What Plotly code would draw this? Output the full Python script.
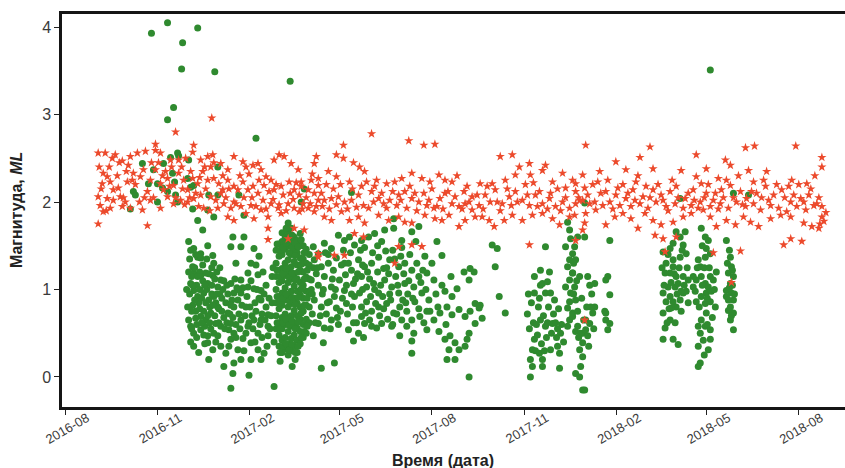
import pandas as pd
import plotly.graph_objects as go

# Values: (day offset from 2016-08-01, magnitude ML)
ORIGIN = "2016-08-01"

red_2016 = [
    (33,2.56),(40,2.56),(50,2.54),(57,2.47),(65,2.52),(72,2.56),(80,2.58),(90,2.66),(90,2.59),(95,2.56),
    (110,2.80),(105,2.48),(113,2.48),(120,2.50),(128,2.65),(127,2.57),(135,2.48),(142,2.52),(147,2.54),(148,2.45),
    (155,2.44),(162,2.37),(168,2.52),(177,2.46),(180,2.40),(187,2.42),(192,2.44),(195,2.37),(200,2.29),(208,2.48),
    (213,2.54),(218,2.52),(225,2.44),(232,2.37),(235,2.18),(245,2.25),(252,2.19),(146,2.96),
    (38,2.33),(42,2.29),(45,2.23),(37,2.21),(53,2.16),(48,2.14),(62,2.23),(68,2.33),(75,2.29),(78,2.37),
    (85,2.25),(90,2.37),(95,2.21),(102,2.27),(98,2.14),(108,2.19),(113,2.33),(118,2.25),(122,2.14),(127,2.27),
    (132,2.21),(137,2.35),(142,2.25),(145,2.40),(148,2.27),(153,2.21),(157,2.14),(162,2.25),(168,2.18),(172,2.14),
    (177,2.23),(182,2.14),(187,2.18),(192,2.10),(198,2.19),(205,2.25),(208,2.14),(215,2.18),(223,2.23),(228,2.14),
    (235,2.23),(242,2.14),(248,2.10),
    (33,2.06),(42,2.04),(48,2.02),(55,2.06),(60,2.00),(35,1.96),(45,1.93),(57,1.95),(38,1.89),(65,1.93),
    (77,1.91),(85,2.02),(95,1.93),(102,2.06),(108,1.98),(115,2.02),(122,2.00),(128,2.04),(135,2.08),(138,1.93),
    (145,2.06),(150,2.02),(152,1.93),(158,1.98),(162,1.83),(165,1.93),(168,2.00),(175,1.95),(180,1.87),(185,1.96),
    (188,1.81),(195,1.91),(202,1.83),(205,1.98),(212,1.93),(215,1.87),(222,1.98),(228,1.93),(233,1.89),(237,1.98),
    (242,1.93),(248,1.89),(252,2.02),
    (33,1.75),(82,1.73),(168,1.79),(202,1.70),(202,1.57),(222,1.58),(228,1.70),(238,1.68),
    (36,2.15),(44,2.40),(52,2.30),(58,2.05),(63,2.42),(70,2.20),(74,2.00),(82,2.12),(88,2.05),(93,2.45),
    (100,2.35),(104,2.18),(110,2.05),(116,2.40),(119,1.97),(125,2.35),(130,2.10),(133,1.95),(140,2.15),(144,1.90),
    (160,2.05),(163,2.15),(170,1.98),(174,2.30),(178,2.05),(183,2.32),(186,2.05),(190,1.95),(193,2.25),(197,2.02),
    (200,1.92),(203,2.12),(207,2.03),(210,2.20),(213,1.97),(217,2.08),(220,1.90),(224,2.10),(227,2.03),(230,2.22),
    (233,2.08),(236,1.92),(240,2.05),(244,1.98),(246,2.32),(250,1.95),(155,2.10),(157,2.30),(139,2.40),(134,2.28),
    (124,2.05),(117,2.15),(106,2.40),(97,2.30),(86,2.45),(79,2.05),(67,2.25),(61,2.35),(54,2.45),(47,2.50),
    (41,1.90),(34,2.40),
]

red_2017 = [
    (305,2.78),(277,2.65),(342,2.70),(357,2.65),(368,2.66),(250,2.52),(270,2.54),(277,2.50),(287,2.45),(293,2.40),
    (298,2.35),(248,2.44),(262,2.35),(252,2.27),(270,2.29),(283,2.23),(300,2.23),(308,2.18),(320,2.21),(328,2.23),
    (335,2.27),(345,2.33),(355,2.27),(363,2.23),(372,2.31),(378,2.25),(385,2.23),(397,2.12),(405,2.06),(413,2.21),
    (425,2.21),(433,2.52),(445,2.54),(438,2.25),(448,2.31),(452,2.40),(462,2.44),(463,2.31),(478,2.42),(475,2.36),
    (485,2.23),(495,2.33),(498,2.16),(508,2.12),
    (255,2.10),(258,2.02),(265,2.04),(272,2.06),(278,2.00),(285,2.02),(292,2.08),(297,1.96),(305,2.12),(312,2.04),
    (317,1.98),(323,2.02),(332,2.08),(338,2.12),(345,2.04),(352,2.00),(360,1.96),(367,1.93),(373,2.04),(378,2.10),
    (385,1.98),(392,1.95),(398,1.98),(405,1.91),(412,1.96),(418,2.08),(423,2.00),(428,2.14),(435,1.98),(442,2.06),
    (448,2.12),(455,2.02),(462,1.96),(468,2.08),(475,1.98),(482,2.04),(488,1.95),(495,2.00),(502,1.93),(508,1.98),
    (515,2.02),
    (258,1.83),(265,1.79),(275,1.89),(283,1.79),(292,1.83),(298,1.76),(312,1.85),(322,1.79),(332,1.83),(338,1.77),
    (345,1.76),(358,1.85),(368,1.81),(375,1.79),(382,1.85),(392,1.72),(398,1.79),(408,1.83),(415,1.83),(422,1.79),
    (427,1.72),(437,1.79),(445,1.85),(455,1.79),(465,1.85),(475,1.87),(485,1.81),(492,1.74),(502,1.83),
    (288,1.64),(297,1.60),(252,1.37),(268,1.39),(278,1.39),(332,1.49),(345,1.51),(355,1.49),(328,1.30),(462,1.51),
    (515,1.68),(252,1.41),
    (256,1.95),(260,2.20),(263,1.92),(267,2.15),(270,1.97),(274,2.20),(281,1.92),(286,2.15),(290,1.94),(295,2.18),
    (302,1.93),(307,2.00),(310,2.25),(315,2.10),(320,1.93),(326,2.12),(330,1.96),(334,2.02),(340,1.93),(343,2.18),
    (348,2.10),(350,1.90),(357,2.10),(362,2.02),(365,2.15),(370,1.95),(376,1.92),(381,2.12),(388,2.06),(390,2.30),
    (395,1.92),(400,2.18),(402,2.00),(410,2.08),(416,1.92),(420,2.18),(430,2.00),(433,1.90),(440,2.15),(444,1.96),
    (450,2.00),(458,2.20),(460,2.08),(466,2.22),(470,1.95),(472,2.12),(480,1.92),(483,2.10),(490,2.15),(493,1.90),
    (498,2.05),(505,2.25),(511,2.05),
]

red_2018 = [
    (518,2.65),(582,2.63),(628,2.54),(677,2.62),(686,2.64),(727,2.64),(753,2.51),(753,2.40),(548,2.46),(558,2.37),
    (572,2.51),(532,2.35),(585,2.38),(613,2.36),(638,2.38),(657,2.48),(662,2.42),(680,2.36),(698,2.35),(515,2.31),
    (568,2.23),(628,2.29),(650,2.27),(685,2.23),(723,2.25),(738,2.21),
    (508,2.21),(517,2.16),(530,2.23),(538,2.12),(550,2.16),(558,2.04),(565,2.14),(575,2.06),(585,2.14),(593,2.08),
    (602,2.12),(608,2.18),(617,2.04),(625,2.14),(633,2.21),(638,2.10),(645,2.02),(653,2.14),(662,2.19),(672,2.12),
    (678,2.04),(688,2.10),(697,2.18),(705,2.08),(713,2.14),(722,2.00),(732,2.04),(740,2.08),(748,1.98),(753,1.95),
    (512,2.02),(522,1.98),(535,1.96),(542,2.00),(552,1.96),(563,1.95),(572,1.98),(580,1.93),(588,2.00),(598,1.95),
    (607,1.98),(615,1.93),(623,1.96),(632,2.00),(642,1.95),(652,1.98),(660,1.93),(668,2.00),(677,1.95),(685,1.98),
    (692,1.91),(702,1.96),(710,1.93),(718,1.89),(728,1.95),(737,1.91),(745,1.96),
    (507,1.85),(518,1.87),(528,1.91),(538,1.74),(547,1.83),(555,1.87),(563,1.81),(570,1.70),(577,1.87),(585,1.79),
    (593,1.74),(605,1.77),(615,1.83),(623,1.87),(635,1.91),(642,1.83),(648,1.72),(658,1.79),(667,1.74),(675,1.83),
    (682,1.77),(690,1.72),(702,1.81),(712,1.85),(722,1.83),(735,1.76),(743,1.72),(750,1.70),(753,1.83),
    (517,1.76),(508,1.56),(587,1.62),(595,1.58),(608,1.60),(597,1.43),(645,1.42),(672,1.44),(715,1.51),(722,1.58),
    (733,1.55),(517,0.65),(663,1.08),
    (520,2.08),(525,2.20),(527,2.00),(533,2.10),(540,2.25),(545,1.92),(548,2.08),(555,2.20),(560,2.10),(567,2.02),
    (570,2.30),(578,2.18),(582,2.05),(590,2.20),(595,2.02),(600,1.90),(604,2.25),(610,2.05),(620,2.10),(626,2.02),
    (630,1.93),(636,2.05),(640,2.20),(647,2.10),(650,1.92),(655,2.05),(658,2.25),(665,2.05),(670,2.30),(674,1.97),
    (683,2.12),(693,2.05),(695,2.25),(700,2.02),(708,2.20),(716,2.05),(720,2.18),(725,2.08),(730,2.20),(735,2.00),
    (742,2.15),(746,2.30),(750,2.05),(755,1.78),(757,1.88),(751,1.75),
]

green_outliers = [
    (86,3.93),(102,4.05),(117,3.82),(132,3.99),(116,3.52),(149,3.49),(224,3.38),(108,3.08),(102,2.94),(190,2.73),
    (642,3.51),
]

green_2016 = [
    (112,2.56),(113,2.53),(105,2.51),(123,2.48),(77,2.44),(88,2.37),(98,2.44),(107,2.33),(109,2.23),(122,2.27),
    (152,2.40),(68,2.12),(70,2.08),(83,2.21),(92,2.21),(97,2.16),(102,2.12),(110,2.08),(112,2.00),(125,2.17),
    (128,2.19),(143,2.08),(152,2.08),(142,1.91),(148,1.83),(92,2.00),(65,1.92),(132,1.79),(137,1.68),(127,1.92),
    (178,1.85),(173,2.08),(238,2.15),(235,2.00),(285,2.11),
]

green_2017a = [
    (128,1.47),(132,1.37),(135,1.41),(142,1.50),(147,1.39),(148,1.30),(127,1.26),(128,1.19),(135,1.16),(140,1.19),
    (142,1.07),(147,1.16),(152,1.03),(155,1.11),(125,1.07),(128,0.99),(132,0.92),(138,0.96),(143,0.88),(148,0.92),
    (152,0.80),(127,0.82),(130,0.75),(135,0.69),(140,0.65),(145,0.73),(150,0.61),(125,0.58),(128,0.50),(135,0.54),
    (142,0.47),(148,0.50),(155,0.58),(125,0.40),(142,0.39),(147,0.31),(155,0.35),(160,0.27),(165,0.43),(168,0.50),
    (165,0.61),(162,0.73),(168,0.80),(172,0.88),(175,0.96),(182,1.03),(188,1.01),(195,0.99),(168,0.96),(165,1.07),
    (175,1.11),(182,1.19),(170,1.30),(165,1.49),(175,1.49),(167,1.60),(178,1.60),(188,1.47),(192,1.17),(185,1.30),
    (195,0.88),(200,0.80),(202,0.71),(188,0.65),(182,0.58),(175,0.65),(180,0.50),(185,0.39),(192,0.31),(198,0.27),
    (195,0.20),(185,0.20),(175,0.20),(168,0.16),(158,0.12),(167,0.04),(183,0.02),(165,-0.13),(208,-0.11),(143,0.20),
    (135,1.36),(130,0.67),(152,0.47),(172,0.31),(202,0.47),(202,0.58),(195,0.65),(192,0.50),(177,0.44),(163,0.54),
    (123,1.55),(124,1.35),(126,1.15),(124,0.95),(126,0.75),(123,0.65),(129,1.25),(131,1.05),(133,0.85),(131,0.60),
    (134,1.20),(137,1.10),(136,0.90),(138,0.75),(139,0.58),(141,1.35),(141,1.00),(144,0.80),(144,0.62),(146,1.25),
    (146,0.95),(149,0.70),(150,0.85),(151,1.20),(153,0.62),(154,0.95),(156,0.75),(157,1.00),(159,0.55),(160,0.85),
    (161,1.05),(164,0.72),(166,0.88),(170,0.60),(171,1.02),(173,0.72),(176,0.82),(179,0.70),(181,0.92),(184,0.80),
    (186,0.70),(189,0.85),(190,0.75),(193,0.90),(196,0.72),(198,0.95),(200,1.05),(197,1.20),(193,1.38),(190,1.28),
    (203,0.90),(205,0.70),(206,1.15),(128,0.35),(133,0.28),(139,0.38),
    (121,1.00),(122,0.80),(123,1.20),(125,1.45),(126,0.55),(127,1.05),(129,0.88),(130,1.40),(131,0.45),(132,1.15),
    (134,0.78),(134,1.00),(136,0.62),(137,1.28),(138,0.48),(139,1.05),(140,0.85),(142,0.70),(143,1.18),(145,0.55),
    (146,1.05),(147,0.82),(149,1.12),(150,0.40),(151,0.95),(153,0.78),(154,1.25),(156,0.90),(158,0.68),(158,1.10),
    (161,0.62),(162,0.95),(163,0.35),(165,0.82),(167,0.68),(169,1.12),(170,0.45),(172,1.00),(174,0.55),(177,1.02),
    (178,0.30),(180,0.80),(183,0.62),(185,1.10),(187,0.55),(189,0.40),(191,1.00),(194,0.60),(196,0.45),(199,0.65),
    (201,0.35),(204,0.55),(206,0.85),
]

green_2017b = [
    (210,0.55),(210,0.70),(210,0.85),(210,1.00),(210,1.15),(210,1.30),(210,1.45),
    (213,0.35),(213,0.48),(213,0.62),(213,0.78),(213,0.92),(213,1.08),(213,1.22),(213,1.38),(213,1.52),
    (216,0.28),(216,0.42),(216,0.55),(216,0.68),(216,0.82),(216,0.96),(216,1.10),(216,1.24),(216,1.40),(216,1.55),(216,1.65),
    (219,0.32),(219,0.45),(219,0.60),(219,0.72),(219,0.88),(219,1.02),(219,1.16),(219,1.30),(219,1.46),(219,1.60),
    (222,0.25),(222,0.38),(222,0.52),(222,0.66),(222,0.80),(222,0.94),(222,1.08),(222,1.20),(222,1.34),(222,1.50),(222,1.66),(222,1.76),
    (225,0.30),(225,0.44),(225,0.58),(225,0.70),(225,0.84),(225,0.98),(225,1.12),(225,1.26),(225,1.40),(225,1.55),(225,1.70),
    (228,0.35),(228,0.48),(228,0.62),(228,0.76),(228,0.90),(228,1.04),(228,1.18),(228,1.32),(228,1.46),(228,1.60),
    (231,0.28),(231,0.42),(231,0.56),(231,0.70),(231,0.84),(231,0.98),(231,1.12),(231,1.28),(231,1.42),(231,1.56),
    (234,0.38),(234,0.52),(234,0.66),(234,0.80),(234,0.94),(234,1.08),(234,1.22),(234,1.36),(234,1.50),(234,1.64),
    (237,0.45),(237,0.60),(237,0.75),(237,0.90),(237,1.05),(237,1.20),(237,1.35),(237,1.50),
    (240,0.50),(240,0.66),(240,0.82),(240,0.98),(240,1.14),(240,1.30),(240,1.46),
    (243,0.62),(243,0.80),(243,0.96),(243,1.12),(243,1.28),(243,1.40),
    (214,0.18),(226,0.12),(229,0.20),(208,0.40),(207,1.25),(245,1.00),(246,0.72),(247,1.25),
    (211,0.62),(211,0.92),(211,1.22),(211,1.52),
    (214,0.28),(214,0.55),(214,0.85),(214,1.15),(214,1.45),
    (217,0.35),(217,0.62),(217,0.90),(217,1.18),(217,1.48),
    (220,0.38),(220,0.66),(220,0.95),(220,1.24),(220,1.53),(220,1.70),
    (223,0.31),(223,0.59),(223,0.87),(223,1.14),(223,1.42),(223,1.62),
    (226,0.37),(226,0.64),(226,0.91),(226,1.19),(226,1.48),(226,1.62),
    (229,0.28),(229,0.55),(229,0.83),(229,1.11),(229,1.39),(229,1.53),
    (232,0.35),(232,0.63),(232,0.91),(232,1.20),(232,1.49),
    (235,0.45),(235,0.73),(235,1.01),(235,1.29),(235,1.57),
    (238,0.52),(238,0.82),(238,1.12),(238,1.42),
    (241,0.58),(241,0.90),(241,1.22),
]

green_2017c = [
    (247,1.49),(252,1.41),(258,1.53),(265,1.47),(272,1.62),(278,1.56),(283,1.60),(288,1.51),(295,1.56),(302,1.60),
    (308,1.64),(315,1.55),(318,1.68),(327,1.81),(327,1.70),(335,1.56),(345,1.66),(352,1.72),(370,1.55),(375,1.39),
    (248,1.34),(255,1.26),(262,1.30),(270,1.36),(278,1.30),(285,1.22),(292,1.34),(298,1.26),(305,1.30),(312,1.37),
    (317,1.24),(323,1.34),(332,1.26),(338,1.30),(345,1.22),(352,1.15),(360,1.19),(367,1.11),
    (245,1.11),(252,1.05),(258,1.15),(265,1.03),(273,1.11),(278,0.99),(287,1.07),(295,1.15),(300,1.03),(307,1.07),
    (312,0.96),(318,1.11),(325,1.03),(332,0.96),(338,1.07),(347,1.03),(355,0.96),(362,0.88),(378,0.98),(385,0.92),
    (390,1.01),
    (248,0.88),(255,0.80),(263,0.86),(270,0.79),(280,0.84),(288,0.92),(295,0.80),(300,0.86),(305,0.75),(312,0.80),
    (320,0.84),(327,0.73),(333,0.80),(340,0.75),(345,0.65),(353,0.69),(360,0.75),(367,0.65),(373,0.73),(380,0.80),
    (385,0.71),(392,0.77),(398,0.69),(403,0.75),
    (252,0.61),(258,0.56),(265,0.65),(272,0.60),(282,0.54),(295,0.69),(298,0.61),(303,0.65),(310,0.56),(315,0.61),
    (325,0.58),(335,0.65),(340,0.58),(347,0.50),(360,0.54),(372,0.52),(378,0.43),(383,0.47),(388,0.39),(392,0.31),
    (398,0.35),(400,0.43),(402,0.50),
    (247,0.47),(257,0.39),(287,0.41),(297,0.45),(333,0.47),(345,0.41),(345,0.27),(382,0.31),(380,0.20),(388,0.20),
    (402,0.00),(268,0.16),(255,0.10),
    (250,1.18),(256,0.95),(260,0.72),(262,1.40),(267,1.22),(268,0.92),(271,0.68),(275,1.28),(276,0.90),(279,1.17),
    (281,0.72),(284,1.42),(286,0.80),(289,1.12),(290,0.62),(293,0.96),(294,1.45),(296,1.28),(299,0.73),(301,1.20),
    (304,0.92),(306,1.42),(309,0.84),(311,1.20),(313,0.70),(316,0.92),(319,1.44),(321,0.66),(322,1.18),(324,0.88),
    (326,1.45),(329,1.15),(330,0.72),(334,1.38),(336,0.88),(337,1.18),(341,0.95),(343,1.40),(348,0.86),(350,1.30),
    (354,1.08),(357,0.62),(358,1.38),
    (246,0.95),(249,0.62),(251,1.25),(254,0.70),(257,1.00),(259,1.42),(261,0.85),(264,0.55),(266,1.12),(269,1.00),
    (274,0.75),(277,1.45),(280,1.05),(282,1.30),(285,0.95),(287,0.62),(291,1.18),(292,0.50),(296,1.00),(298,1.48),
    (303,1.12),(305,0.58),(308,1.00),(311,1.50),(314,1.05),(317,0.78),(320,1.25),(323,0.95),(326,0.60),(328,1.35),
    (331,1.05),(335,1.48),(339,0.85),(342,1.10),(346,0.90),(349,1.55),(352,0.78),(356,1.22),(359,1.00),(363,0.75),
    (365,1.30),(369,0.95),(371,0.80),(375,1.05),(379,0.60),(384,1.15),
]

green_2017d = [
    (397,1.20),(403,1.24),(407,1.20),(402,1.11),(428,1.26),(425,1.51),(430,1.47),(408,0.84),(413,0.82),(432,0.92),
    (438,0.73),(412,0.79),(415,0.67),(408,0.61),
    (478,1.49),(473,1.22),(475,1.07),(478,0.96),(467,0.96),(473,1.05),(480,1.09),(483,0.96),
    (473,0.65),(478,0.58),(485,0.61),(493,0.50),(500,0.58),(508,0.52),(515,0.50),(502,0.65),
    (467,0.43),(465,0.31),(472,0.27),(475,0.20),(483,0.31),(490,0.35),(492,0.27),(465,0.12),(463,0.00),(475,0.12),
    (492,0.10),(508,0.04),(515,-0.15),
    (460,0.72),(462,0.55),(464,0.85),(466,0.62),(468,0.30),(470,0.48),(471,0.80),(474,0.38),(476,0.70),(479,0.45),
    (481,0.80),(484,0.50),(486,0.72),(488,0.62),(489,0.45),(491,0.78),(494,0.60),(496,0.40),
    (500,1.77),(502,1.68),(503,1.58),(498,1.49),(505,1.41),(502,1.34),(500,1.26),(505,1.19),(502,1.11),(498,1.03),
    (503,0.96),(502,0.86),(500,0.79),(505,0.69),(517,1.99),
    (461,0.95),(463,0.20),(467,1.15),(469,0.60),(472,0.90),(477,0.30),(480,0.62),(482,1.20),(487,0.88),(490,0.55),
]

green_2018 = [
    (507,1.49),(508,1.34),(505,1.19),(507,1.03),(508,0.88),(505,0.73),(510,0.58),(513,0.50),(518,0.54),(522,0.61),
    (525,0.73),(527,0.80),(520,0.47),(515,0.39),(512,0.31),(515,0.23),(513,0.12),(512,0.00),(517,-0.15),(517,1.60),
    (512,1.15),(520,1.15),(522,1.05),(527,1.07),(523,0.80),(518,0.65),
    (506,1.30),(509,1.10),(510,0.75),(511,0.45),(514,0.90),(516,0.65),(519,0.80),(521,0.35),(524,0.95),(526,0.55),
    (510,1.60),(506,0.95),
    (542,1.56),(540,1.15),(538,1.11),(542,0.94),(537,0.75),(538,0.65),(540,0.54),(542,0.61),(538,0.73),
    (595,1.43),(602,1.47),(605,1.53),(612,1.60),(617,1.66),(608,1.66),(615,1.51),(618,1.41),(612,1.37),(605,1.34),
    (598,1.30),(605,1.26),(602,1.19),(597,1.19),(608,1.15),(615,1.15),(607,1.03),(600,1.03),(595,0.96),(602,0.92),
    (605,0.86),(612,0.88),(615,0.96),(608,0.80),(603,0.79),(598,0.86),(595,0.73),(602,0.65),(597,0.56),(595,0.43),
    (605,0.43),(610,0.37),(618,0.98),(613,0.98),(610,1.07),
    (594,1.25),(596,1.05),(599,0.62),(600,1.40),(601,0.78),(603,1.08),(606,1.18),(607,0.62),(609,0.95),(611,1.25),
    (613,0.75),(614,1.45),(616,1.05),(619,1.25),(620,0.85),
    (633,1.70),(637,1.60),(640,1.56),(630,1.34),(632,1.26),(638,1.47),(642,1.41),(637,1.37),(633,1.15),(628,1.11),
    (637,1.07),(640,1.03),(642,1.15),(645,1.11),(638,0.96),(633,0.92),(628,0.86),(637,0.84),(642,0.86),(647,0.80),
    (638,0.73),(633,0.65),(630,0.58),(637,0.58),(642,0.54),(632,0.50),(642,0.43),(640,0.31),(632,0.16),(630,0.12),
    (625,1.15),(620,1.11),(625,1.03),(658,1.56),
    (627,0.98),(629,1.25),(631,0.80),(634,1.05),(635,0.42),(636,1.25),(639,0.90),(639,0.60),(641,1.25),(643,0.98),
    (644,0.68),(646,1.00),(648,1.20),(634,1.50),(630,0.35),(636,0.25),
    (662,1.37),(663,1.26),(660,1.19),(665,1.15),(662,1.07),(658,0.99),(663,0.96),(665,0.88),(660,0.88),(662,0.80),
    (665,0.73),(662,0.65),(665,0.54),(658,0.92),(659,1.30),(664,1.22),(661,1.02),(664,1.05),(660,0.76),(663,0.70),
    (666,0.95),(661,1.45),
    (612,2.04),(665,2.10),(680,2.08),
]

x_tick_vals = ["2016-08-01", "2016-11-01", "2017-02-01", "2017-05-01", "2017-08-01",
               "2017-11-01", "2018-02-01", "2018-05-01", "2018-08-01"]
x_tick_text = ["2016-08", "2016-11", "2017-02", "2017-05", "2017-08",
               "2017-11", "2018-02", "2018-05", "2018-08"]
y_tick_vals = [0, 1, 2, 3, 4]


def to_xy(*groups):
    pts = [p for g in groups for p in g]
    days = [p[0] for p in pts]
    mags = [p[1] for p in pts]
    dates = pd.Timestamp(ORIGIN) + pd.to_timedelta(days, unit="D")
    return dates, mags


gx, gy = to_xy(green_outliers, green_2016, green_2017a, green_2017b, green_2017c, green_2017d, green_2018)
rx, ry = to_xy(red_2016, red_2017, red_2018)

GREEN = "#2f8a2f"
RED = "#ec4a2c"

fig = go.Figure()
fig.add_trace(go.Scatter(
    x=gx, y=gy, mode="markers",
    marker=dict(symbol="circle", size=7, color=GREEN, line=dict(width=0)),
    showlegend=False, hoverinfo="skip"))
fig.add_trace(go.Scatter(
    x=rx, y=ry, mode="markers",
    marker=dict(symbol="star", size=7, color=RED, line=dict(width=0)),
    showlegend=False, hoverinfo="skip"))

axis_font = dict(family="Liberation Sans, Arial, sans-serif", color="#3a3a3a")

fig.update_layout(
    width=845, height=468,
    margin=dict(l=62, r=0, t=14, b=61),
    paper_bgcolor="white", plot_bgcolor="white",
    font=dict(family="Liberation Sans, Arial, sans-serif", color="#222"),
    xaxis=dict(
        type="date", range=["2016-07-29", "2018-09-16"],
        tickmode="array", tickvals=x_tick_vals, ticktext=x_tick_text,
        tickangle=-30, ticks="outside", ticklen=5, tickwidth=1.2, tickcolor="#222",
        tickfont=dict(size=13, **axis_font), ticklabelshift=22, ticklabelstandoff=-9,
        showline=True, linewidth=2.5, linecolor="#151515", mirror=True,
        showgrid=False, zeroline=False),
    yaxis=dict(
        range=[-0.343, 4.149], tickmode="array", tickvals=y_tick_vals,
        ticks="outside", ticklen=5, tickwidth=1.2, tickcolor="#222",
        tickfont=dict(size=16, **axis_font),
        showline=True, linewidth=2.5, linecolor="#151515", mirror=False,
        showgrid=False, zeroline=False),
    annotations=[
        dict(text="<b>Время (дата)</b>", xref="paper", yref="paper", x=0.487, y=-0.135,
             xanchor="center", yanchor="middle", showarrow=False,
             font=dict(size=16, color="#222")),
        dict(text="<b>Магнитуда, <i>ML</i></b>", xref="paper", yref="paper", x=-0.058, y=0.5,
             xanchor="center", yanchor="middle", textangle=-90, showarrow=False,
             font=dict(size=16, color="#222")),
    ],
)

fig.write_html("out.html", config={"displayModeBar": False},
               post_script="document.body.style.margin='0';")
